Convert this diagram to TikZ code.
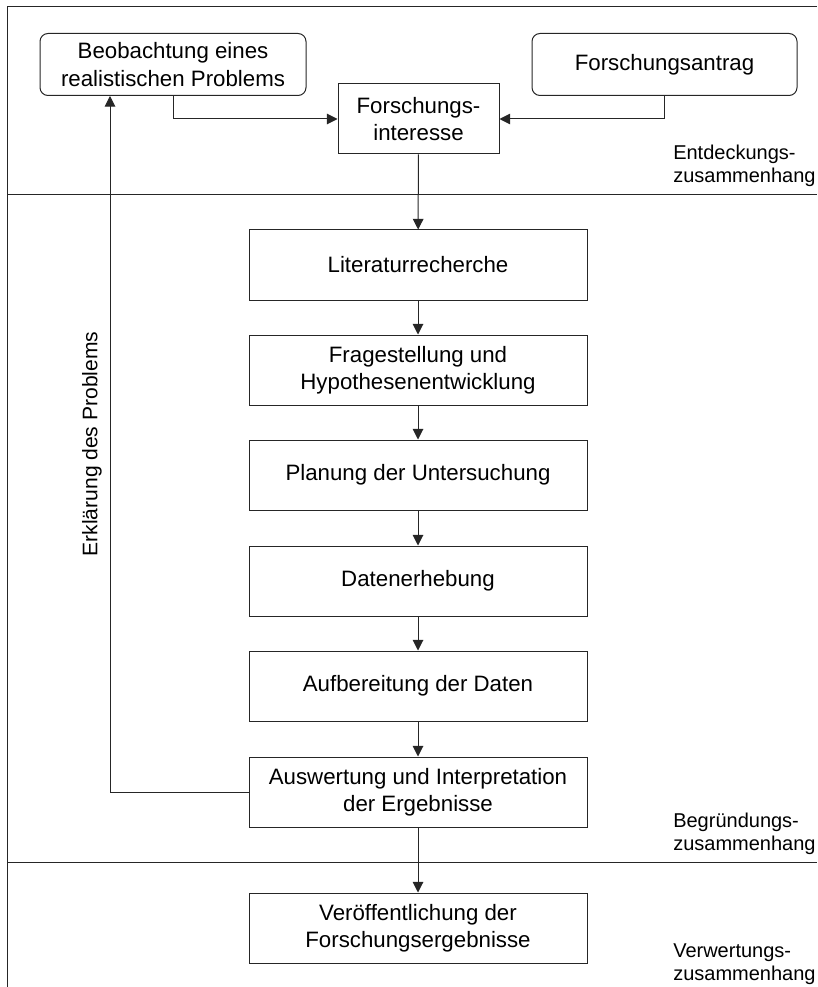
\documentclass[tikz,border=0pt]{standalone}
\usepackage{fontspec}
\setmainfont{Liberation Sans}
\usepackage{tikz}
\usetikzlibrary{arrows.meta,positioning,calc}

\tikzset{
  pfeil/.style={draw=black!85,line width=0.75pt,-{Triangle[width=8pt,length=8pt]}},
  kasten/.style={draw=black!85,line width=0.75pt,align=center,inner sep=0pt,
    font=\fontsize{16.7}{20.6}\selectfont},
  schritt/.style={kasten,minimum width=253.5pt,minimum height=52.5pt},
  anlass/.style={kasten,rounded corners=6pt,minimum height=46.5pt},
  phase/.style={align=left,anchor=west,inner sep=0pt,font=\fontsize{15}{17.5}\selectfont}
}

\begin{document}
\begin{tikzpicture}[x=0.75pt,y=-0.75pt]
%Rahmen und Trennlinien der drei Zusammenhaenge
  \useasboundingbox (0,0) rectangle (817,987);
  \draw[black!85,line width=0.75pt] (817,7) -- (7,7) -- (7,987);
  \draw[black!85,line width=0.75pt] (7,195) -- (817,195);
  \draw[black!85,line width=0.75pt] (7,862) -- (817,862);
%Anlaesse
  \node[anlass,minimum width=199.5pt] (beob) at (173,64.5) {Beobachtung eines\\realistischen Problems};
  \node[anlass,minimum width=198.75pt] (antrag) at (664.5,64.5) {Forschungsantrag};
  \node[kasten,minimum width=120.75pt,minimum height=52.5pt] (inter) at (418.5,119) {Forschungs-\\interesse};
  \draw[pfeil] (beob) |- (inter);
  \draw[pfeil] (antrag) |- (inter);
%Forschungsprozess
\foreach \n/\yy/\txt in {lit/265/Literaturrecherche,
    frage/370/{Fragestellung und\\Hypothesenentwicklung},
    plan/475/{Planung der Untersuchung},
    daten/581/Datenerhebung,
    aufb/686/{Aufbereitung der Daten},
    ausw/792/{Auswertung und Interpretation\\der Ergebnisse},
    veroeff/928/{Veröffentlichung der\\Forschungsergebnisse}}{
  \node[schritt] (\n) at (418,\yy) {\txt};
}
\foreach \a/\b in {inter/lit,lit/frage,frage/plan,plan/daten,daten/aufb,aufb/ausw,ausw/veroeff}{
  \draw[pfeil] (\a) -- (\b);
}
%Rueckkopplung
  \coordinate (knick) at (110,792);
  \draw[pfeil] (ausw.west) -- (knick) -- (knick |- beob.south);
  \node[rotate=90,inner sep=0pt,font=\fontsize{15.8}{19}\selectfont] (erkl) at (92,444) {Erklärung des Problems};
%Phasen
  \node[phase] (entd) at (673,166) {Entdeckungs-\\zusammenhang};
  \node[phase] (begr) at (673,834) {Begründungs-\\zusammenhang};
  \node[phase] (verw) at (673,964) {Verwertungs-\\zusammenhang};
\end{tikzpicture}
\end{document}
